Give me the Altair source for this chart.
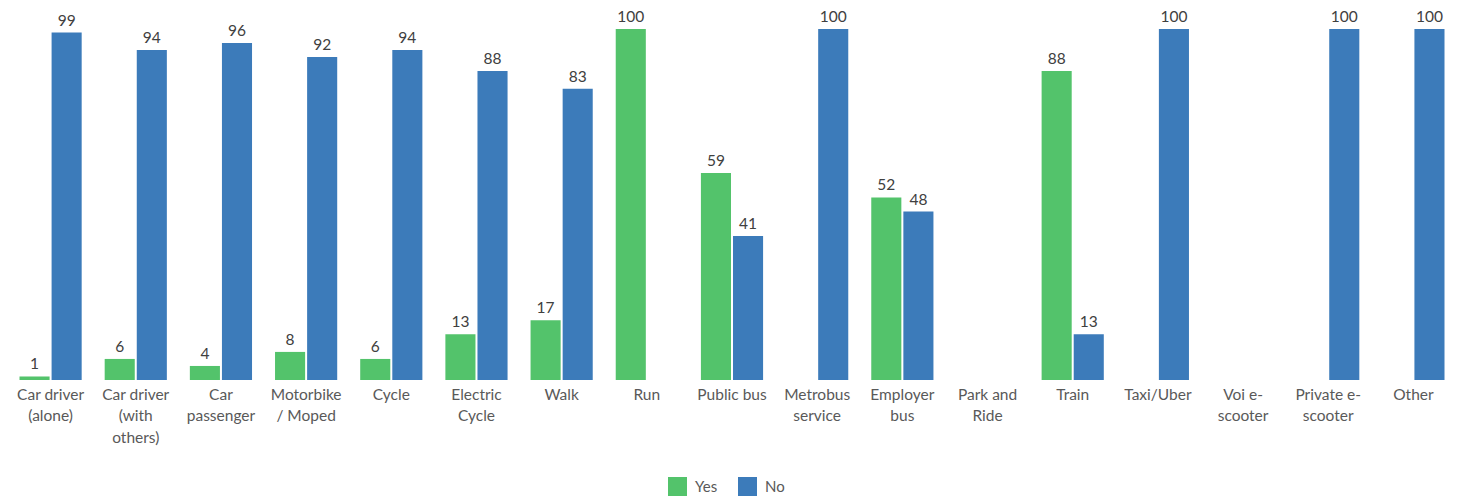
import altair as alt
import pandas as pd

categories = ["Car driver|(alone)", "Car driver|(with|others)", "Car|passenger", "Motorbike|/ Moped",
              "Cycle", "Electric|Cycle", "Walk", "Run", "Public bus", "Metrobus|service",
              "Employer|bus", "Park and|Ride", "Train", "Taxi/Uber", "Voi e-|scooter",
              "Private e-|scooter", "Other"]
yes_values = [1, 6, 4, 8, 6, 13, 17, 100, 59, None, 52, None, 88, None, None, None, None]
no_values = [99, 94, 96, 92, 94, 88, 83, None, 41, 100, 48, None, 13, 100, None, 100, 100]
series = ["Yes", "No"]
colors = ["#53C36B", "#3C7BBA"]

rows = []
for c, y, n in zip(categories, yes_values, no_values):
    if y is not None:
        rows.append({"cat": c, "series": "Yes", "value": y})
    if n is not None:
        rows.append({"cat": c, "series": "No", "value": n})
df = pd.DataFrame(rows)

FONT = "Lato"

x = alt.X("cat:N", sort=categories, title=None,
          scale=alt.Scale(domain=categories, paddingInner=0.27, paddingOuter=0.135),
          axis=alt.Axis(labelAngle=0, labelExpr="split(datum.label, '|')",
                        labelFontSize=15.5, labelColor="#595959", labelFont=FONT,
                        labelLineHeight=21.5, labelPadding=7, domain=False, ticks=False,
                        labelBaseline="top"))
xo = alt.XOffset("series:N", scale=alt.Scale(domain=series, paddingInner=0.0625, paddingOuter=0))
y = alt.Y("value:Q", scale=alt.Scale(domain=[0, 100]), axis=None)

bars = alt.Chart(df).mark_bar().encode(
    x=x, xOffset=xo, y=y,
    color=alt.Color("series:N", scale=alt.Scale(domain=series, range=colors),
                    legend=alt.Legend(title=None, orient="none", legendX=660, legendY=448,
                                      direction="horizontal", symbolType="square",
                                      symbolSize=361, symbolStrokeWidth=0,
                                      labelFontSize=15, labelColor="#595959", labelFont=FONT,
                                      columnPadding=20, labelOffset=8))
)

labels = alt.Chart(df).mark_text(fontSize=15.5, color="#404040", font=FONT, baseline="alphabetic", dy=-7).encode(
    x=x, xOffset=xo, y=y, text=alt.Text("value:Q")
)

chart = (bars + labels).properties(
    width=1448, height=351,
    autosize=alt.AutoSizeParams(type="none"),
    padding={"left": 0, "right": 0, "top": 21, "bottom": 118},
).configure_view(stroke=None)

chart.save("out.html", embed_options={"renderer": "svg", "actions": False})
